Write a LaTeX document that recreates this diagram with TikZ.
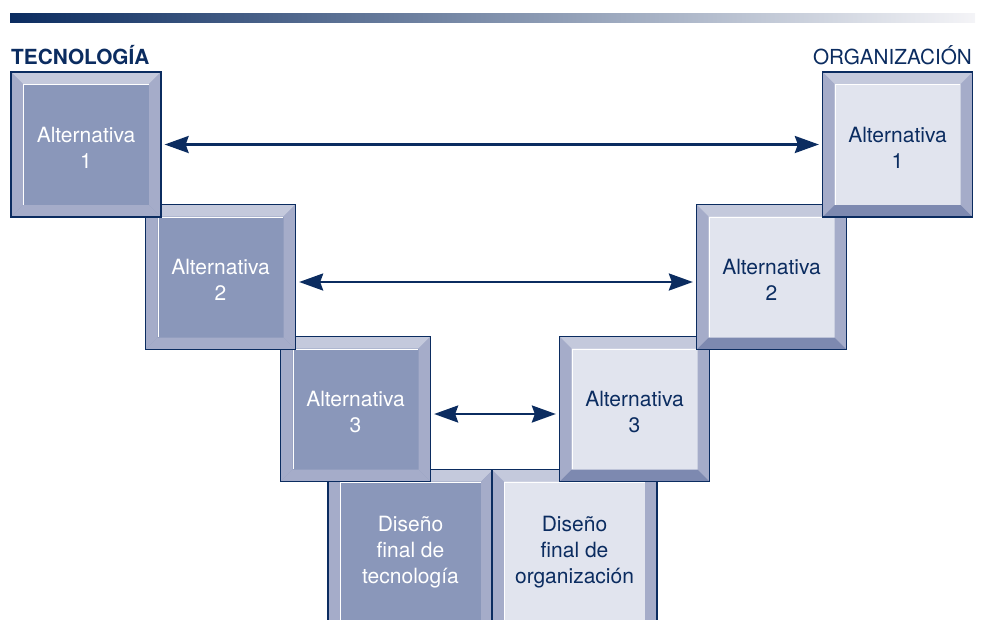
\documentclass[tikz,border=0pt]{standalone}
\usepackage{fontspec}
\setmainfont{TeX Gyre Heros}
\usetikzlibrary{arrows.meta}
\definecolor{navy}{HTML}{0B2C60}
\definecolor{bevtop}{HTML}{C4C9DC}
\definecolor{bevside}{HTML}{A5ACC9}
\definecolor{bevdark}{HTML}{7D89B0}
\definecolor{faceL}{HTML}{8A97BA}
\definecolor{faceR}{HTML}{E1E4EE}
\definecolor{barmid}{HTML}{5F719C}
\definecolor{barend}{HTML}{F4F4F7}
\newcommand{\topstrut}{\rule{0pt}{21pt}}
\tikzset{
  bevel/.style={path picture={
    \fill[bevtop] (path picture bounding box.north west) -- (path picture bounding box.north east)
      -- ([shift={(-12pt,-12pt)}]path picture bounding box.north east)
      -- ([shift={(12pt,-12pt)}]path picture bounding box.north west) -- cycle;
    \fill[bevside] (path picture bounding box.north west) -- ([shift={(12pt,-12pt)}]path picture bounding box.north west)
      -- ([shift={(12pt,12pt)}]path picture bounding box.south west) -- (path picture bounding box.south west) -- cycle;
    \fill[bevside] (path picture bounding box.north east) -- ([shift={(-12pt,-12pt)}]path picture bounding box.north east)
      -- ([shift={(-12pt,12pt)}]path picture bounding box.south east) -- (path picture bounding box.south east) -- cycle;
    \fill[#1] (path picture bounding box.south west) -- (path picture bounding box.south east)
      -- ([shift={(-12pt,12pt)}]path picture bounding box.south east)
      -- ([shift={(12pt,12pt)}]path picture bounding box.south west) -- cycle;
    \draw[white, line width=0.9pt] ([shift={(12.5pt,12.5pt)}]path picture bounding box.south west)
      -- ([shift={(12.5pt,-12.5pt)}]path picture bounding box.north west)
      -- ([shift={(-12.5pt,-12.5pt)}]path picture bounding box.north east);
  }},
  boxbase/.style={rectangle, inner sep=0pt, draw=navy, line width=1.3pt, align=center,
    font=\fontsize{21}{26}\selectfont, minimum width=150pt, minimum height=145pt},
  techbox/.style={boxbase, fill=faceL, text=white, bevel=bevside},
  orgbox/.style={boxbase, fill=faceR, text=navy, bevel=bevdark},
  finalbox/.style={minimum width=165pt, minimum height=165pt},
  arr/.style={{Stealth[length=24pt,width=17pt,inset=3pt]}-{Stealth[length=24pt,width=17pt,inset=3pt]},
    line width=2.6pt, draw=navy, shorten >=3pt, shorten <=3pt},
  head/.style={text=navy, inner sep=0pt}
}
\begin{document}
\begin{tikzpicture}[x=1pt,y=-1pt]
\useasboundingbox (0,0) rectangle (981,619);
\clip (0,0) rectangle (981,619);
\shade[left color=navy, middle color=barmid, right color=barend] (10,13) rectangle (975,22);
\node[head, anchor=base west, font=\fontsize{20.8}{24}\selectfont\bfseries] (tec) at (11,64) {TECNOLOGÍA};
\node[head, anchor=base east, font=\fontsize{20.7}{24}\selectfont] (org) at (972,64) {ORGANIZACIÓN};
% bottom layer first
\node[techbox, finalbox] (dt) at (410.5,552) {Diseño\\final de\\tecnología};
\node[orgbox, finalbox] (do) at (574.5,552) {Diseño\\final de\\organización};
\node[techbox] (l3) at (355.5,409) {\topstrut Alternativa\\3};
\node[orgbox] (r3) at (634.5,409) {\topstrut Alternativa\\3};
\node[techbox] (l2) at (220.5,277) {\topstrut Alternativa\\2};
\node[orgbox] (r2) at (771.5,277) {\topstrut Alternativa\\2};
\node[techbox] (l1) at (86,144.5) {\topstrut Alternativa\\1};
\node[orgbox] (r1) at (897.5,144.5) {\topstrut Alternativa\\1};
% connectors
\draw[arr] (l1.east) -- (r1.west);
\draw[arr] ([yshift=-5pt]l2.east) -- ([yshift=-5pt]r2.west);
\draw[arr] ([yshift=-5pt]l3.east) -- ([yshift=-5pt]r3.west);
\end{tikzpicture}
\end{document}
